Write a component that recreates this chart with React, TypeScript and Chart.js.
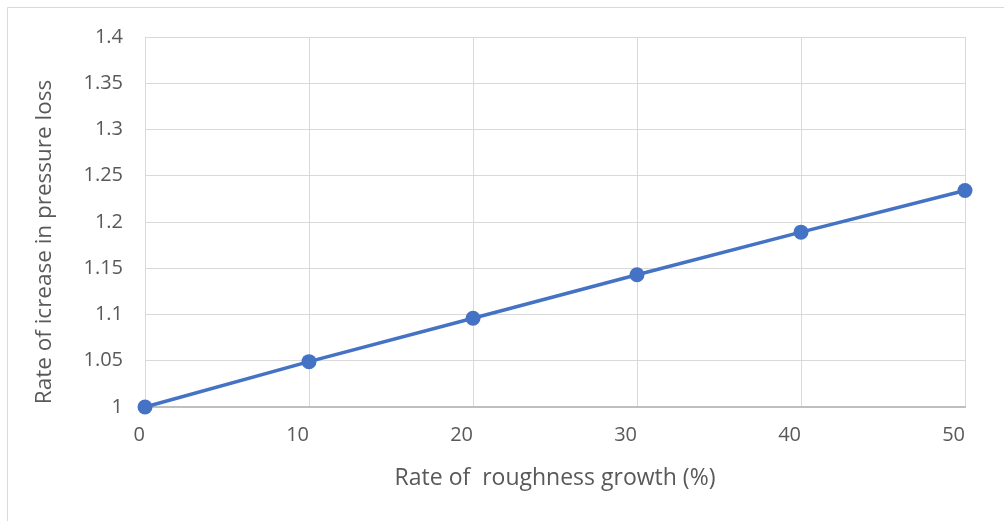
import React, { useEffect, useRef } from "react";
import { Chart, registerables } from "chart.js";

Chart.register(...registerables);

const roughnessGrowth = [0, 10, 20, 30, 40, 50];
const pressureLossRate = [1.0, 1.049, 1.096, 1.143, 1.189, 1.234];
const xTitle = "Rate of  roughness growth (%)";
const yTitle = "Rate of icrease in pressure loss";

const FONT = "'Open Sans', sans-serif";
const TEXT = "#595959";

const framePlugin = {
  id: "frame",
  beforeDraw(chart: any) {
    const ctx = chart.ctx;
    ctx.save();
    ctx.fillStyle = "#ffffff";
    ctx.fillRect(0, 0, chart.width, chart.height);
    ctx.strokeStyle = "#d9d9d9";
    ctx.lineWidth = 1;
    ctx.beginPath();
    ctx.moveTo(7.5, chart.height);
    ctx.lineTo(7.5, 7.5);
    ctx.lineTo(chart.width, 7.5);
    ctx.stroke();
    ctx.restore();
  },
  afterDraw(chart: any) {
    const ctx = chart.ctx;
    const area = chart.chartArea;
    ctx.save();
    ctx.translate(45, area.top + (area.bottom - area.top) / 2 + 20);
    ctx.rotate(-Math.PI / 2);
    ctx.fillStyle = TEXT;
    ctx.font = `22.5px ${FONT}`;
    ctx.textAlign = "center";
    ctx.textBaseline = "middle";
    ctx.fillText(yTitle, 0, 0);
    ctx.restore();
  },
};

export default function App() {
  const ref = useRef<HTMLCanvasElement>(null);
  useEffect(() => {
    document.body.style.margin = "0";
    const chart = new Chart(ref.current!, {
      type: "scatter",
      data: {
        datasets: [
          {
            data: roughnessGrowth.map((x, i) => ({ x, y: pressureLossRate[i] })),
            showLine: true,
            clip: false,
            borderColor: "#4472C4",
            backgroundColor: "#4472C4",
            borderWidth: 3.5,
            pointRadius: 7.5,
            pointHoverRadius: 7.5,
            pointBorderWidth: 0,
          },
        ],
      },
      options: {
        animation: false,
        responsive: false,
        layout: { padding: { left: 0, right: 39, top: 37, bottom: 0 } },
        plugins: { legend: { display: false }, tooltip: { enabled: false } },
        scales: {
          x: {
            type: "linear",
            min: 0,
            max: 50,
            afterFit: (s: any) => { s.height = 114; },
            ticks: {
              stepSize: 10,
              align: "end",
              padding: 16,
              color: TEXT,
              font: { family: FONT, size: 20 },
            },
            grid: { color: "#d9d9d9", lineWidth: 1, drawTicks: false },
            border: { color: "#bfbfbf", width: 2 },
            title: {
              display: true,
              text: xTitle,
              color: TEXT,
              font: { family: FONT, size: 23 },
              padding: { top: 0, bottom: 29 },
            },
          },
          y: {
            min: 1,
            max: 1.4,
            afterFit: (s: any) => { s.width = 145; },
            ticks: {
              stepSize: 0.05,
              padding: 22,
              color: TEXT,
              font: { family: FONT, size: 20 },
              callback: (v: any) => String(Math.round(Number(v) * 100) / 100),
            },
            grid: { color: "#d9d9d9", lineWidth: 1, drawTicks: false },
            border: { color: "#d9d9d9", width: 1 },
            title: { display: false },
          },
        },
      },
      plugins: [framePlugin],
    });
    return () => chart.destroy();
  }, []);
  return <canvas ref={ref} width={1004} height={521} style={{ display: "block" }} />;
}
